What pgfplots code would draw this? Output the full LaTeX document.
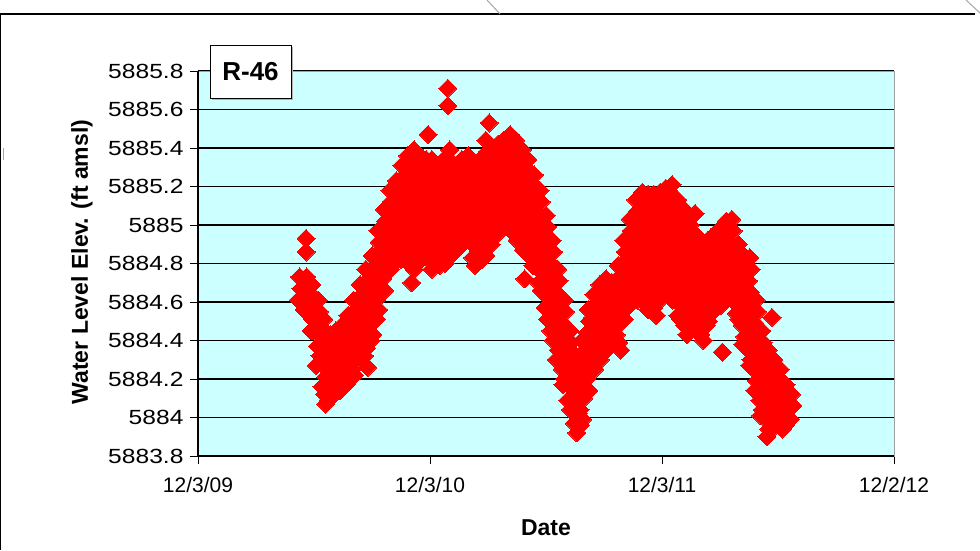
\documentclass[border=0pt]{standalone}
\usepackage{pgfplots}
\pgfplotsset{compat=1.18}
\usepackage{fontspec}
\setmainfont{Liberation Sans}
\newfontfamily\yfont{Liberation Sans}[FakeStretch=1.2]
\definecolor{plotbg}{HTML}{CCFFFF}
\definecolor{framegray}{HTML}{A0A0A0}

\begin{document}
\begin{tikzpicture}
\path[use as bounding box] (0,0) rectangle (980pt,-550pt);
\fill[white] (0,0) rectangle (980pt,-550pt);

\begin{axis}[
at={(198pt,-456pt)}, anchor=south west,
width=696pt, height=385pt, scale only axis,
xmin=40150, xmax=41245,
ymin=5883.8, ymax=5885.8,
scaled x ticks=false, scaled y ticks=false,
xtick={40150,40515,40880,41245},
xticklabels={12/3/09,12/3/10,12/3/11,12/2/12},
ytick={5883.8,5884,5884.2,5884.4,5884.6,5884.8,5885,5885.2,5885.4,5885.6,5885.8},
yticklabels={5883.8,5884,5884.2,5884.4,5884.6,5884.8,5885,5885.2,5885.4,5885.6,5885.8},
xtick pos=bottom, ytick pos=left,
tick align=outside, major tick length=8pt,
tick style={black, line width=1pt},
xticklabel style={font=\fontsize{21}{25}\selectfont, yshift=-10pt},
yticklabel style={font=\yfont\fontsize{20.5}{24}\selectfont, xshift=-3pt},
ymajorgrids=true,
grid style={black, line width=1.2pt},
axis line style={draw=framegray, line width=1pt},
axis background/.style={fill=plotbg},
clip=false,
]

\addplot[
red,
only marks,
mark=square*,
mark size=6.4pt,
mark options={rotate=45, draw=red, fill=red, line width=0pt},
]
coordinates {
(40310,5884.73)(40312,5884.67)(40308,5884.61)
(40320,5884.93)(40320,5884.86)(40321,5884.73)(40319,5884.67)(40323,5884.61)(40317,5884.56)
(40329,5884.69)(40331,5884.63)(40327,5884.57)(40330,5884.51)(40328,5884.45)
(40339,5884.61)(40341,5884.55)(40337,5884.49)(40340,5884.43)(40338,5884.37)(40342,5884.32)(40336,5884.27)
(40348,5884.51)(40350,5884.45)(40346,5884.39)(40349,5884.33)(40347,5884.27)(40351,5884.21)(40345,5884.16)(40349,5884.12)(40351,5884.07)
(40358,5884.43)(40360,5884.37)(40356,5884.31)(40359,5884.25)(40357,5884.19)(40361,5884.14)(40355,5884.09)
(40367,5884.45)(40369,5884.39)(40365,5884.33)(40368,5884.27)(40366,5884.21)(40370,5884.16)(40364,5884.12)
(40377,5884.48)(40379,5884.42)(40375,5884.36)(40378,5884.30)(40376,5884.24)(40380,5884.19)(40374,5884.14)
(40386,5884.53)(40388,5884.47)(40384,5884.41)(40387,5884.35)(40385,5884.29)(40389,5884.23)(40383,5884.17)
(40395,5884.61)(40397,5884.55)(40393,5884.49)(40396,5884.43)(40394,5884.37)(40398,5884.31)(40392,5884.25)(40396,5884.22)
(40405,5884.69)(40407,5884.63)(40403,5884.57)(40406,5884.51)(40404,5884.45)(40408,5884.39)(40402,5884.34)(40406,5884.30)
(40414,5884.77)(40416,5884.71)(40412,5884.65)(40415,5884.59)(40413,5884.53)(40417,5884.47)(40411,5884.41)(40415,5884.36)(40412,5884.32)(40417,5884.26)
(40424,5884.84)(40426,5884.78)(40422,5884.72)(40425,5884.66)(40423,5884.60)(40427,5884.54)(40421,5884.48)(40425,5884.43)(40422,5884.40)
(40433,5884.97)(40435,5884.91)(40431,5884.85)(40434,5884.79)(40432,5884.73)(40436,5884.67)(40430,5884.61)(40434,5884.56)(40431,5884.51)
(40443,5885.08)(40445,5885.02)(40441,5884.96)(40444,5884.90)(40442,5884.84)(40446,5884.78)(40440,5884.72)(40444,5884.66)
(40452,5885.18)(40454,5885.12)(40450,5885.06)(40453,5885.00)(40451,5884.94)(40455,5884.88)(40449,5884.82)(40453,5884.77)
(40462,5885.23)(40464,5885.17)(40460,5885.11)(40463,5885.05)(40461,5884.99)(40465,5884.93)(40459,5884.87)(40463,5884.82)
(40471,5885.31)(40473,5885.25)(40469,5885.19)(40472,5885.13)(40470,5885.07)(40474,5885.01)(40468,5884.95)(40472,5884.89)(40469,5884.82)
(40480,5885.36)(40482,5885.30)(40478,5885.24)(40481,5885.18)(40479,5885.12)(40483,5885.06)(40477,5885.00)(40481,5884.94)(40478,5884.87)(40482,5884.80)(40486,5884.70)
(40490,5885.39)(40492,5885.33)(40488,5885.27)(40491,5885.21)(40489,5885.15)(40493,5885.09)(40487,5885.03)(40491,5884.97)(40488,5884.91)(40492,5884.85)(40490,5884.77)
(40499,5885.36)(40501,5885.30)(40497,5885.24)(40500,5885.18)(40498,5885.12)(40502,5885.06)(40496,5885.00)(40500,5884.94)(40497,5884.88)(40501,5884.82)
(40509,5885.34)(40511,5885.28)(40507,5885.22)(40510,5885.16)(40508,5885.10)(40512,5885.04)(40506,5884.98)(40510,5884.92)(40507,5884.84)(40512,5885.47)
(40518,5885.34)(40520,5885.28)(40516,5885.22)(40519,5885.16)(40517,5885.10)(40521,5885.04)(40515,5884.98)(40519,5884.92)(40516,5884.86)(40520,5884.80)(40518,5884.77)
(40528,5885.31)(40530,5885.25)(40526,5885.19)(40529,5885.13)(40527,5885.07)(40531,5885.01)(40525,5884.95)(40529,5884.89)(40526,5884.83)(40530,5884.79)
(40537,5885.34)(40539,5885.28)(40535,5885.22)(40538,5885.16)(40536,5885.10)(40540,5885.04)(40534,5884.98)(40538,5884.92)(40535,5884.86)(40539,5884.80)(40543,5885.71)(40543,5885.62)
(40546,5885.39)(40548,5885.33)(40544,5885.27)(40547,5885.21)(40545,5885.15)(40549,5885.09)(40543,5885.03)(40547,5884.97)(40544,5884.91)(40548,5884.84)
(40556,5885.31)(40558,5885.25)(40554,5885.19)(40557,5885.13)(40555,5885.07)(40559,5885.01)(40553,5884.95)(40557,5884.87)
(40565,5885.34)(40567,5885.28)(40563,5885.22)(40566,5885.16)(40564,5885.10)(40568,5885.04)(40562,5884.98)(40566,5884.90)
(40575,5885.36)(40577,5885.30)(40573,5885.24)(40576,5885.18)(40574,5885.12)(40578,5885.06)(40572,5885.00)(40576,5884.92)
(40584,5885.31)(40586,5885.25)(40582,5885.19)(40585,5885.13)(40583,5885.07)(40587,5885.01)(40581,5884.95)(40585,5884.89)(40582,5884.83)(40586,5884.79)
(40594,5885.34)(40596,5885.28)(40592,5885.22)(40595,5885.16)(40593,5885.10)(40597,5885.04)(40591,5884.98)(40595,5884.92)(40592,5884.86)(40596,5884.82)
(40603,5885.44)(40605,5885.38)(40601,5885.32)(40604,5885.26)(40602,5885.20)(40606,5885.14)(40600,5885.08)(40604,5885.02)(40601,5884.96)(40605,5884.90)(40603,5884.84)(40608,5885.53)
(40613,5885.39)(40615,5885.33)(40611,5885.27)(40614,5885.21)(40612,5885.15)(40616,5885.09)(40610,5885.03)(40614,5884.97)(40611,5884.90)
(40622,5885.42)(40624,5885.36)(40620,5885.30)(40623,5885.24)(40621,5885.18)(40625,5885.12)(40619,5885.06)(40623,5885.00)(40620,5884.95)
(40631,5885.44)(40633,5885.38)(40629,5885.32)(40632,5885.26)(40630,5885.20)(40634,5885.14)(40628,5885.08)(40632,5885.02)(40629,5885.00)
(40641,5885.47)(40643,5885.41)(40639,5885.35)(40642,5885.29)(40640,5885.23)(40644,5885.17)(40638,5885.11)(40642,5885.05)(40639,5884.99)(40643,5884.97)
(40650,5885.44)(40652,5885.38)(40648,5885.32)(40651,5885.26)(40649,5885.20)(40653,5885.14)(40647,5885.08)(40651,5885.02)(40648,5884.96)(40652,5884.92)
(40660,5885.39)(40662,5885.33)(40658,5885.27)(40661,5885.21)(40659,5885.15)(40663,5885.09)(40657,5885.03)(40661,5884.97)(40658,5884.91)(40662,5884.87)(40664,5884.72)
(40669,5885.34)(40671,5885.28)(40667,5885.22)(40670,5885.16)(40668,5885.10)(40672,5885.04)(40666,5884.98)(40670,5884.92)(40667,5884.86)(40671,5884.84)
(40679,5885.26)(40681,5885.20)(40677,5885.14)(40680,5885.08)(40678,5885.02)(40682,5884.96)(40676,5884.90)(40680,5884.84)(40677,5884.79)
(40688,5885.18)(40690,5885.12)(40686,5885.06)(40689,5885.00)(40687,5884.94)(40691,5884.88)(40685,5884.82)(40689,5884.76)(40686,5884.70)(40690,5884.66)
(40698,5885.05)(40700,5884.99)(40696,5884.93)(40699,5884.87)(40697,5884.81)(40701,5884.75)(40695,5884.69)(40699,5884.63)(40696,5884.57)(40700,5884.51)
(40707,5884.92)(40709,5884.86)(40705,5884.80)(40708,5884.74)(40706,5884.68)(40710,5884.62)(40704,5884.56)(40708,5884.50)(40705,5884.45)(40709,5884.40)
(40716,5884.77)(40718,5884.71)(40714,5884.65)(40717,5884.59)(40715,5884.53)(40719,5884.47)(40713,5884.41)(40717,5884.35)(40714,5884.30)
(40726,5884.61)(40728,5884.55)(40724,5884.49)(40727,5884.43)(40725,5884.37)(40729,5884.31)(40723,5884.25)(40727,5884.20)(40724,5884.17)
(40735,5884.45)(40737,5884.39)(40733,5884.33)(40736,5884.27)(40734,5884.21)(40738,5884.15)(40732,5884.09)(40736,5884.04)
(40745,5884.32)(40747,5884.26)(40743,5884.20)(40746,5884.14)(40744,5884.08)(40748,5884.02)(40742,5883.97)(40746,5883.92)
(40754,5884.40)(40756,5884.34)(40752,5884.28)(40755,5884.22)(40753,5884.16)(40757,5884.10)(40751,5884.04)(40755,5883.99)(40752,5883.96)
(40764,5884.56)(40766,5884.50)(40762,5884.44)(40765,5884.38)(40763,5884.32)(40767,5884.26)(40761,5884.20)(40765,5884.14)
(40773,5884.64)(40775,5884.58)(40771,5884.52)(40774,5884.46)(40772,5884.40)(40776,5884.34)(40770,5884.28)(40774,5884.25)
(40782,5884.69)(40784,5884.63)(40780,5884.57)(40783,5884.51)(40781,5884.45)(40785,5884.39)(40779,5884.34)(40783,5884.30)
(40792,5884.72)(40794,5884.66)(40790,5884.60)(40793,5884.54)(40791,5884.48)(40795,5884.42)(40789,5884.38)(40793,5884.35)
(40801,5884.70)(40803,5884.64)(40799,5884.58)(40802,5884.52)(40800,5884.46)(40804,5884.41)(40798,5884.38)
(40811,5884.79)(40813,5884.73)(40809,5884.67)(40812,5884.61)(40810,5884.55)(40814,5884.49)(40808,5884.43)(40812,5884.39)(40815,5884.35)
(40820,5884.92)(40822,5884.86)(40818,5884.80)(40821,5884.74)(40819,5884.68)(40823,5884.62)(40817,5884.56)(40821,5884.51)
(40830,5885.03)(40832,5884.97)(40828,5884.91)(40831,5884.85)(40829,5884.79)(40833,5884.73)(40827,5884.67)(40831,5884.61)(40828,5884.58)
(40839,5885.13)(40841,5885.07)(40837,5885.01)(40840,5884.95)(40838,5884.89)(40842,5884.83)(40836,5884.77)(40840,5884.71)(40837,5884.65)(40841,5884.61)
(40849,5885.17)(40851,5885.11)(40847,5885.05)(40850,5884.99)(40848,5884.93)(40852,5884.87)(40846,5884.81)(40850,5884.75)(40847,5884.69)(40851,5884.63)(40849,5884.61)
(40858,5885.16)(40860,5885.10)(40856,5885.04)(40859,5884.98)(40857,5884.92)(40861,5884.86)(40855,5884.80)(40859,5884.74)(40856,5884.68)(40860,5884.62)(40858,5884.56)
(40867,5885.16)(40869,5885.10)(40865,5885.04)(40868,5884.98)(40866,5884.92)(40870,5884.86)(40864,5884.80)(40868,5884.74)(40865,5884.68)(40869,5884.62)(40867,5884.57)(40871,5884.53)
(40877,5885.17)(40879,5885.11)(40875,5885.05)(40878,5884.99)(40876,5884.93)(40880,5884.87)(40874,5884.81)(40878,5884.75)(40875,5884.69)(40879,5884.63)(40877,5884.61)
(40886,5885.19)(40888,5885.13)(40884,5885.07)(40887,5885.01)(40885,5884.95)(40889,5884.89)(40883,5884.83)(40887,5884.77)(40884,5884.71)(40888,5884.66)
(40896,5885.21)(40898,5885.15)(40894,5885.09)(40897,5885.03)(40895,5884.97)(40899,5884.91)(40893,5884.85)(40897,5884.79)(40894,5884.73)(40898,5884.67)(40896,5884.61)
(40905,5885.13)(40907,5885.07)(40903,5885.01)(40906,5884.95)(40904,5884.89)(40908,5884.83)(40902,5884.77)(40906,5884.71)(40903,5884.65)(40907,5884.59)(40905,5884.53)(40909,5884.51)
(40915,5885.08)(40917,5885.02)(40913,5884.96)(40916,5884.90)(40914,5884.84)(40918,5884.78)(40912,5884.72)(40916,5884.66)(40913,5884.60)(40917,5884.54)(40915,5884.48)(40919,5884.43)
(40924,5885.00)(40926,5884.94)(40922,5884.88)(40925,5884.82)(40923,5884.76)(40927,5884.70)(40921,5884.64)(40925,5884.58)(40922,5884.51)(40932,5885.06)
(40933,5884.95)(40935,5884.89)(40931,5884.83)(40934,5884.77)(40932,5884.71)(40936,5884.65)(40930,5884.59)(40934,5884.53)(40931,5884.47)(40935,5884.45)
(40943,5884.90)(40945,5884.84)(40941,5884.78)(40944,5884.72)(40942,5884.66)(40946,5884.60)(40940,5884.54)(40944,5884.48)(40941,5884.43)(40945,5884.40)
(40952,5884.92)(40954,5884.86)(40950,5884.80)(40953,5884.74)(40951,5884.68)(40955,5884.62)(40949,5884.56)(40953,5884.50)(40950,5884.48)
(40962,5884.95)(40964,5884.89)(40960,5884.83)(40963,5884.77)(40961,5884.71)(40965,5884.65)(40959,5884.59)(40963,5884.56)
(40971,5884.98)(40973,5884.92)(40969,5884.86)(40972,5884.80)(40970,5884.74)(40974,5884.68)(40968,5884.62)(40972,5884.58)(40975,5884.34)
(40981,5885.02)(40983,5884.96)(40979,5884.90)(40982,5884.84)(40980,5884.78)(40984,5884.72)(40978,5884.66)(40982,5884.61)
(40990,5885.03)(40992,5884.97)(40988,5884.91)(40991,5884.85)(40989,5884.79)(40993,5884.73)(40987,5884.67)(40991,5884.61)
(41000,5884.90)(41002,5884.84)(40998,5884.78)(41001,5884.72)(40999,5884.66)(41003,5884.60)(40997,5884.54)(41001,5884.51)
(41009,5884.84)(41011,5884.78)(41007,5884.72)(41010,5884.66)(41008,5884.60)(41012,5884.54)(41006,5884.48)(41010,5884.42)(41007,5884.38)
(41018,5884.83)(41020,5884.77)(41016,5884.71)(41019,5884.65)(41017,5884.59)(41021,5884.53)(41015,5884.47)(41019,5884.41)(41016,5884.35)(41020,5884.30)(41018,5884.27)
(41028,5884.61)(41030,5884.55)(41026,5884.49)(41029,5884.43)(41027,5884.37)(41031,5884.31)(41025,5884.25)(41029,5884.19)(41026,5884.14)
(41037,5884.45)(41039,5884.39)(41035,5884.33)(41038,5884.27)(41036,5884.21)(41040,5884.15)(41034,5884.09)(41038,5884.04)(41035,5884.01)
(41047,5884.35)(41049,5884.29)(41045,5884.23)(41048,5884.17)(41046,5884.11)(41050,5884.05)(41044,5883.99)(41048,5883.94)(41045,5883.90)(41053,5884.52)
(41056,5884.30)(41058,5884.24)(41054,5884.18)(41057,5884.12)(41055,5884.06)(41059,5884.00)(41053,5883.94)
(41066,5884.25)(41068,5884.19)(41064,5884.13)(41067,5884.07)(41065,5884.01)(41069,5883.94)
(41075,5884.17)(41077,5884.11)(41073,5884.05)(41076,5884.00)(41074,5883.96)
(41084,5884.12)(41086,5884.06)(41082,5883.99)
};

% left and bottom axis lines are black in the original
\draw[black, line width=1.2pt] (rel axis cs:0,1) -- (rel axis cs:0,0) -- (rel axis cs:1,0);
\end{axis}

% labels
\node[rotate=90, font=\bfseries\fontsize{23}{27}\selectfont] at (82pt,-262pt) {Water Level Elev. (ft amsl)};
\node[font=\bfseries\fontsize{23}{27}\selectfont] at (546pt,-528pt) {Date};

% R-46 box
\fill[gray!60] (212pt,-47pt) rectangle (293pt,-100pt);
\node[draw=black, fill=white, line width=0.8pt, minimum width=81pt, minimum height=53pt, inner sep=0pt,
font=\bfseries\fontsize{26}{30}\selectfont] at (250.5pt,-71.5pt) {R-46};

% slide frame
\draw[black, line width=1.3pt] (0.8pt,-550pt) -- (0.8pt,-14pt) -- (975pt,-14pt);
\draw[gray!70, line width=1pt] (487pt,0pt) -- (500pt,-14pt);
\draw[gray!70, line width=1pt] (966pt,0pt) -- (980pt,-13pt);
\draw[gray!70, line width=1pt] (3pt,-148pt) -- (3pt,-160pt);
\end{tikzpicture}
\end{document}
